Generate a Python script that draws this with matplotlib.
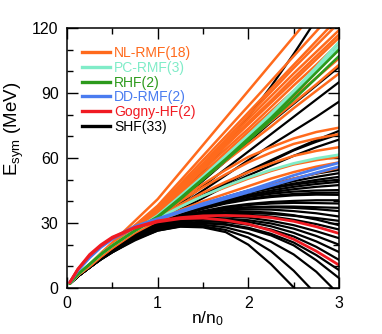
import matplotlib
matplotlib.use("Agg")
import matplotlib.pyplot as plt
from matplotlib.ticker import MultipleLocator

plt.rcParams['font.family'] = ['Liberation Sans', 'DejaVu Sans']
plt.rcParams['mathtext.fontset'] = 'custom'
plt.rcParams['mathtext.rm'] = 'Liberation Sans'
plt.rcParams['mathtext.it'] = 'Liberation Sans'

# density grid n/n0
density = [0.03, 0.12, 0.25, 0.375, 0.5, 0.75, 1.0, 1.25, 1.5, 1.75, 2.0, 2.25, 2.5, 2.75, 3.0]

# NL-RMF (18)
nl_rmf = [
    [2, 6, 11, 16.2, 21, 31, 41, 53.5, 66, 78.5, 91, 103.5, 116, 128.5, 141],
    [2, 6, 10.5, 15.5, 20, 29, 38, 49.5, 61, 72.5, 84, 95.5, 107, 118.5, 130],
    [2, 6, 10.5, 15.2, 19.5, 28.5, 37, 48, 59, 70, 81, 92, 103, 114, 125],
    [2, 6, 10.5, 15.2, 19.5, 28, 36.5, 47, 57.5, 68.5, 79.5, 90.5, 101.5, 112, 122.5],
    [2, 6, 10.5, 15.2, 19.5, 28, 36, 46.5, 57, 67.5, 78, 88.5, 99, 109, 119],
    [2, 6, 10.5, 15.2, 19.5, 27.5, 35.5, 45.5, 56, 66.5, 76.5, 86.5, 97, 107, 117],
    [2, 6, 10.5, 15.2, 19.5, 27.5, 35, 45, 55.5, 65.5, 75.5, 85.5, 95.5, 105.5, 115.5],
    [2, 6, 10.5, 15, 19, 27, 34.5, 44.5, 54.5, 64, 73.5, 83.5, 93.5, 103, 113],
    [2, 6, 10.5, 15, 19, 27, 34, 43.5, 53, 62.5, 72, 81.5, 91, 100.5, 110],
    [2, 6, 10.5, 15, 19, 27, 34, 43, 52, 61, 70, 79, 88, 97, 106],
    [2, 6, 10.5, 15, 19, 27, 34, 43, 51.5, 60, 68.5, 77, 85.5, 94, 103],
    [2, 6, 10.5, 15, 19, 26.5, 33.5, 42, 50.5, 58.5, 66.5, 74.5, 83, 91, 99],
    [2, 6, 10.5, 15, 19, 27, 33.5, 41, 48, 54.5, 60.5, 65, 69, 72, 74],
    [2, 6, 10.5, 15, 19, 27, 33, 40, 46.5, 52.5, 58, 62.5, 66.5, 69, 71],
    [2, 6, 10.5, 15, 19, 26.5, 32.5, 38.5, 44, 49, 53.5, 57.5, 61, 63.3, 65],
    [2, 6, 10.5, 15, 19, 26.5, 32, 37.5, 42.5, 46.5, 50.5, 54, 57, 59, 60.5],
    [2, 6, 10, 14.5, 18.5, 26, 31.5, 36, 40, 43.5, 47, 50.5, 53.5, 56, 58],
    [2, 6, 10, 14.5, 18.5, 25.5, 31, 35, 38.5, 41.5, 44.5, 47.5, 50.5, 53, 55.5],
]

# PC-RMF (3)
pc_rmf = [
    [2, 6.3, 11, 15.6, 19.5, 26.5, 33.5, 42.5, 51.5, 61, 70.5, 80.5, 91, 102, 113.5],
    [2, 6.3, 11, 15.6, 19.5, 26.5, 33, 42, 51, 60, 69.5, 79.5, 89.5, 100.5, 111.5],
    [2, 6.3, 11, 15.6, 19.5, 26.5, 32, 37.5, 42.5, 47, 51, 54.5, 57.5, 59.8, 61.5],
]

# RHF (2)
rhf = [
    [2, 6.3, 11, 15.6, 19.5, 26.5, 33, 41.5, 50.5, 59.5, 69, 78.5, 89, 99.5, 110],
    [2, 6.3, 11, 15.6, 19.5, 26.5, 32.5, 41, 50, 59, 68, 77.5, 87, 97, 107],
]

# DD-RMF (2)
dd_rmf = [
    [2.5, 8.3, 14.5, 19.3, 23, 28.5, 32, 35.5, 39, 42, 45, 48.5, 52, 55, 57.8],
    [2.5, 8, 14, 18.8, 22.5, 28, 31.5, 35, 38.2, 41.2, 44.2, 47.2, 50.2, 53.2, 56],
]

# Gogny-HF (2)
gogny = [
    [2.5, 8.8, 15.5, 20, 23.5, 28, 31, 32.5, 33.3, 33.5, 33.2, 32.5, 30.8, 28.3, 25.2],
    [2.5, 8.6, 15, 19.5, 23, 27.8, 30.5, 32, 32.3, 31.3, 29.5, 26.5, 22.5, 17, 10.6],
]

# SHF (33)
shf = [
    [2, 5.6, 10, 14.3, 18, 25, 33, 43, 54, 66, 79, 93, 108, 124, 140],
    [2, 5.6, 10, 14.3, 18, 25, 32, 40.5, 49.5, 58.5, 67.5, 76.5, 85, 93.5, 102],
    [2, 5.6, 10, 14.3, 18, 24.5, 31.5, 39, 47, 55, 63, 71, 79, 87, 95],
    [2, 5.6, 10, 14.3, 18, 24.5, 31, 38, 45, 52, 59, 66, 72.5, 79, 86],
    [2, 5.6, 10, 14, 17.5, 24, 30.5, 36.5, 42.5, 48, 53.5, 58.5, 63.5, 67.5, 71],
    [2, 5.4, 9.5, 13.8, 17.5, 24, 30, 36, 41.5, 47, 52, 56.5, 61, 65, 68.5],
    [2, 5.6, 10, 14, 17.5, 24, 30, 34.5, 38.5, 42, 45, 47.8, 50.5, 52.8, 54.5],
    [2, 5.6, 10, 14, 17.5, 24, 30, 34.5, 38.5, 41.8, 44.5, 47, 49.3, 51.3, 53],
    [2, 5.6, 10, 14, 17.5, 24, 29.5, 34, 38, 41.5, 44, 46.3, 48.2, 49.9, 51.3],
    [2, 5.4, 9.5, 13.5, 17, 23.5, 29.5, 34, 37.5, 40.5, 43, 45, 46.7, 48, 49],
    [2, 5.4, 9.5, 13.5, 17, 23.5, 29.5, 33.5, 37, 40, 42.3, 44.2, 45.6, 46.7, 47.5],
    [2, 5.6, 10, 14, 17.5, 24, 30, 34, 37.5, 40, 42, 43.5, 44.5, 45, 45.2],
    [2, 5.6, 10, 14, 17.5, 24, 29.5, 33.5, 36.5, 39, 40.8, 42, 42.8, 43.1, 43],
    [2, 5.6, 10, 14, 17.5, 24, 29.5, 33, 35.5, 37.5, 38.8, 39.7, 40.2, 40.5, 40.5],
    [2, 5.6, 10, 14, 17.5, 23.5, 29, 32.5, 35, 37, 38.3, 39, 39.3, 39.2, 39],
    [2, 5.4, 9.5, 13.5, 17, 23.5, 28.5, 32, 34.5, 36.2, 37.2, 37.6, 37.6, 37.3, 37],
    [2, 5.6, 10, 14, 17.5, 24, 29, 32.5, 34.5, 35.8, 36.3, 36.2, 35.5, 34.5, 33],
    [2, 5.6, 10, 14, 17.5, 24, 29, 32, 34, 35, 35.3, 34.8, 33.6, 31.6, 29],
    [2, 5.6, 10, 14, 17.5, 23.5, 28.5, 31.5, 33.3, 34, 33.8, 33, 31.5, 29.5, 27],
    [2, 5.6, 10, 14, 17.5, 23.5, 28.5, 31, 32.5, 33, 32.5, 31, 29, 26.2, 23],
    [2, 5.6, 10, 13.8, 17, 23.5, 28, 30.5, 31.8, 32, 31.3, 29.8, 27.4, 24, 20],
    [2, 5.4, 9.5, 13.5, 17, 23, 28, 30.5, 31.5, 31.5, 30.5, 28.5, 25.5, 21.5, 16.6],
    [2, 5.4, 9.5, 13.5, 17, 23, 27.5, 29.8, 30.7, 30.5, 29.2, 27, 23.8, 19, 13],
    [2, 5.4, 9.5, 13.5, 17, 23, 27.5, 29.5, 30, 29.5, 27.8, 25, 21, 15.2, 8.3],
    [2, 5.4, 9.5, 13.5, 17, 23, 27.5, 29.5, 30, 29.2, 27.3, 24.3, 19.7, 12.8, 4.6],
    [2, 5.4, 9.5, 13.2, 16.5, 22.5, 27, 29, 29.2, 28, 25.3, 21.3, 15.5, 7.5, -3],
    [2, 5.4, 9.5, 13.2, 16.5, 22.5, 26.5, 28.5, 28.5, 26.8, 23.3, 17, 8, -3, -15],
    [2, 5.4, 9.5, 13.2, 16.5, 22, 26.5, 28.3, 28, 25.8, 20, 11, 0.3, -12, -25],
    [2, 5.6, 10, 14, 17.5, 24, 30.5, 37, 43, 48.5, 54, 59, 63.8, 68.3, 72.5],
    [2, 5.6, 10, 14, 17.5, 24, 30, 34.5, 38.3, 41.5, 44, 46, 47.7, 49, 50],
    [2, 5.6, 10, 14, 17.5, 24, 29.5, 33.5, 36.8, 39.3, 41.2, 42.5, 43.4, 43.9, 44],
    [2, 5.6, 10, 14, 17.5, 23.5, 29, 32.5, 35, 36.5, 37.2, 37.3, 37, 36.4, 35.5],
    [2, 5.4, 9.5, 13.5, 17, 23.5, 28.5, 31.8, 33.6, 34.5, 34.6, 34.2, 33.3, 32.3, 31],
]

labels = ["NL-RMF(18)", "PC-RMF(3)", "RHF(2)", "DD-RMF(2)", "Gogny-HF(2)", "SHF(33)"]
colors = ["#ff6a1c", "#80ecc8", "#2c9a1c", "#4a7cf0", "#f01a22", "#000000"]

fig = plt.figure(figsize=(3.82, 3.34), dpi=100)
ax = fig.add_axes([0.1754, 0.1377, 0.712, 0.7784])

groups = [(shf, colors[5], 1.6), (nl_rmf, colors[0], 1.8), (pc_rmf, colors[1], 2.0),
          (rhf, colors[2], 1.9), (dd_rmf, colors[3], 2.0), (gogny, colors[4], 2.0)]
for data, c, lw in groups:
    for ys in data:
        ax.plot(density, ys, color=c, lw=lw, solid_capstyle='round', solid_joinstyle='round')

handles = []
for lab, c in zip(labels, colors):
    h, = ax.plot([], [], color=c, lw=2.4, label=lab)
    handles.append(h)

leg = ax.legend(handles=handles, loc='upper left', bbox_to_anchor=(0.055, 0.93),
                frameon=False, fontsize=10, handlelength=2.0, handletextpad=0.3,
                labelspacing=0.05, borderpad=0, borderaxespad=0)
for t, c in zip(leg.get_texts(), colors):
    t.set_color(c)

ax.set_xlim(0, 3)
ax.set_ylim(0, 120)
ax.xaxis.set_major_locator(MultipleLocator(1))
ax.xaxis.set_minor_locator(MultipleLocator(0.5))
ax.yaxis.set_major_locator(MultipleLocator(30))
ax.yaxis.set_minor_locator(MultipleLocator(10))
ax.tick_params(which='both', direction='in', top=True, right=True, width=1.0, labelsize=11.5)
ax.tick_params(which='major', length=8)
ax.tick_params(which='minor', length=4.5)
ax.tick_params(axis='x', pad=6)
ax.tick_params(axis='y', pad=6)
for s in ax.spines.values():
    s.set_linewidth(1.1)

ax.set_xlabel(r'n/n$_0$', fontsize=12.5)
ax.set_ylabel(r'E$_{\mathrm{sym}}$ (MeV)', fontsize=13.5)
ax.xaxis.set_label_coords(0.516, -0.08)
ax.yaxis.set_label_coords(-0.15, 0.613)

fig.savefig("out.png", dpi=100)
